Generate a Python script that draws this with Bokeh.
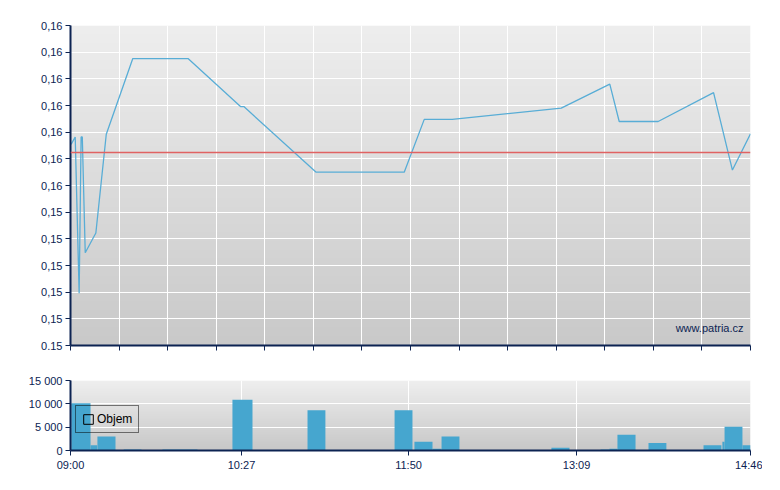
import numpy as np
from bokeh.plotting import figure
from bokeh.layouts import column
from bokeh.models import (Range1d, FixedTicker, CustomJSTickFormatter, Span, Label,
                          Legend, LegendItem)
from bokeh.embed import file_html
from bokeh.resources import INLINE

# ---------------- data ----------------
# session position (minutes after 09:00 on the chart's own linear scale)
price_t = [0.3, 2.4, 4.4, 5.4, 6.0, 7.5, 12.9, 18.2, 31.7, 59.8, 86.5, 88.2, 125.0,
           169.8, 180.0, 194.2, 249.7, 274.4, 279.2, 299.0, 327.2, 336.8, 346.0]
price = [0.15577, 0.15591, 0.15298, 0.15591, 0.15591, 0.15374, 0.15411, 0.15596,
         0.15738, 0.15738, 0.15648, 0.15648, 0.15525, 0.15525, 0.15624, 0.15624,
         0.15645, 0.15690, 0.15620, 0.15620, 0.15674, 0.15529, 0.15597]
prev_close = 0.15562

vol_start = [0.4, 10.2, 13.7, 27.1, 46.8, 82.4, 120.6, 164.9, 175.0, 184.2, 188.8,
             244.7, 269.7, 274.2, 278.3, 294.1, 322.1, 331.7, 332.8, 341.9]
vol_end = [10.2, 13.6, 22.9, 36.1, 64.6, 92.6, 129.7, 174.0, 184.2, 188.8, 197.9,
           253.9, 274.2, 278.3, 287.5, 303.2, 331.2, 332.8, 341.9, 346.0]
volume = [10100, 1100, 3000, 200, 200, 10900, 8600, 8600, 1900, 400, 3000,
          600, 200, 400, 3400, 1600, 1100, 1900, 5100, 1100]

x_min, x_max = 0, 346
main_grid_x = [k * 346 / 14 for k in range(15)]
time_ticks = [0, 87, 172, 257.5, 346]
time_labels = ["09:00", "10:27", "11:50", "13:09", "14:46"]

y_min, y_max = 0.152, 0.158
price_ticks = [0.152 + 0.0005 * k for k in range(13)]
price_labels = ["0.15", "0,15", "0,15", "0,15", "0,15", "0,15",
                "0,16", "0,16", "0,16", "0,16", "0,16", "0,16", "0,16"]

vol_ticks = [0, 5000, 10000, 15000]
vol_labels = ["0", "5 000", "10 000", "15 000"]

# ---------------- style ----------------
NAVY = "#0c2352"
FONT = "Liberation Sans"
LINE = "#58add6"
BAR = "#46a6cf"


def gradient(rows, lo, hi):
    vals = np.linspace(lo, hi, rows).astype(np.uint8)
    rgba = np.zeros((rows, 1, 4), dtype=np.uint8)
    rgba[:, 0, 0] = vals
    rgba[:, 0, 1] = vals
    rgba[:, 0, 2] = vals
    rgba[:, 0, 3] = 255
    return rgba.view(dtype=np.uint32).reshape((rows, 1))


def style_axes(p):
    for ax in (p.xaxis[0], p.yaxis[0]):
        ax.axis_line_color = NAVY
        ax.axis_line_width = 2
        ax.major_tick_line_color = NAVY
        ax.major_tick_line_width = 1
        ax.major_tick_out = 5
        ax.major_tick_in = 0
        ax.minor_tick_line_color = None
        ax.major_label_text_color = NAVY
        ax.major_label_text_font = FONT
        ax.major_label_text_font_size = "11px"
        ax.major_label_standoff = 3
    p.grid.grid_line_color = "white"
    p.grid.grid_line_width = 1
    p.outline_line_color = None


# ---------------- main price chart ----------------
p = figure(frame_width=680, frame_height=320, output_backend="svg", toolbar_location=None,
           x_range=Range1d(x_min, x_max), y_range=Range1d(y_min, y_max),
           min_border_left=70, min_border_right=12, min_border_top=25, min_border_bottom=24,
           background_fill_color="white", border_fill_color="white")
bg = p.image_rgba(image=[gradient(320, 0xc9, 0xee)], x=x_min, y=y_min,
                  dw=x_max - x_min, dh=y_max - y_min)
bg.level = "image"
style_axes(p)
p.xaxis.ticker = FixedTicker(ticks=main_grid_x)
p.xaxis.formatter = CustomJSTickFormatter(code="return ''")
p.xgrid.ticker = FixedTicker(ticks=main_grid_x)
p.yaxis.ticker = FixedTicker(ticks=price_ticks)
p.ygrid.ticker = FixedTicker(ticks=price_ticks)
p.yaxis.formatter = CustomJSTickFormatter(
    args=dict(plabels=price_labels, y0=y_min),
    code="const i = Math.round((tick - y0) / 0.0005); const s = plabels[i]; return s === undefined ? '' : s;")

p.add_layout(Span(location=prev_close, dimension="width", line_color="#e06262", line_width=1.6))
p.line(price_t, price, line_color=LINE, line_width=1.3)
p.add_layout(Label(x=x_max, y=y_min, x_offset=-7, y_offset=18, text="www.patria.cz",
                   text_align="right", text_baseline="alphabetic", text_font=FONT,
                   text_font_size="11px", text_color=NAVY))

# ---------------- volume chart ----------------
v = figure(frame_width=680, frame_height=70, output_backend="svg", toolbar_location=None,
           x_range=Range1d(x_min, x_max), y_range=Range1d(0, 15000),
           min_border_left=70, min_border_right=12, min_border_top=11, min_border_bottom=30,
           background_fill_color="white", border_fill_color="white")
bg2 = v.image_rgba(image=[gradient(70, 0xc8, 0xef)], x=x_min, y=0, dw=x_max - x_min, dh=15000)
bg2.level = "image"
style_axes(v)
v.xaxis.ticker = FixedTicker(ticks=time_ticks)
v.xgrid.ticker = FixedTicker(ticks=time_ticks)
v.xaxis.formatter = CustomJSTickFormatter(
    args=dict(tlabels=time_labels, tvals=time_ticks),
    code="const i = tvals.indexOf(tick); return i >= 0 ? tlabels[i] : '';")
v.yaxis.ticker = FixedTicker(ticks=vol_ticks)
v.ygrid.ticker = FixedTicker(ticks=vol_ticks)
v.yaxis.formatter = CustomJSTickFormatter(
    args=dict(vlabels=vol_labels, vvals=vol_ticks),
    code="const i = vvals.indexOf(tick); return i >= 0 ? vlabels[i] : '';")

v.quad(left=vol_start, right=vol_end, bottom=0, top=volume, fill_color=BAR, line_color=None)
nan = float("nan")
dummy = v.quad(left=[nan], right=[nan], bottom=[nan], top=[nan],
               fill_alpha=0, line_color="black", line_width=1)
legend = Legend(items=[LegendItem(label="Objem", renderers=[dummy])], location=(5, 17),
                margin=0, padding=6, spacing=0, glyph_width=12, glyph_height=12,
                label_height=12, label_standoff=3, label_text_font=FONT,
                label_text_font_size="12px", label_text_color="black",
                background_fill_alpha=0, border_line_color="black", border_line_width=1)
v.add_layout(legend)

layout = column(p, v, spacing=0)
open("out.html", "w").write(file_html(layout, INLINE))
